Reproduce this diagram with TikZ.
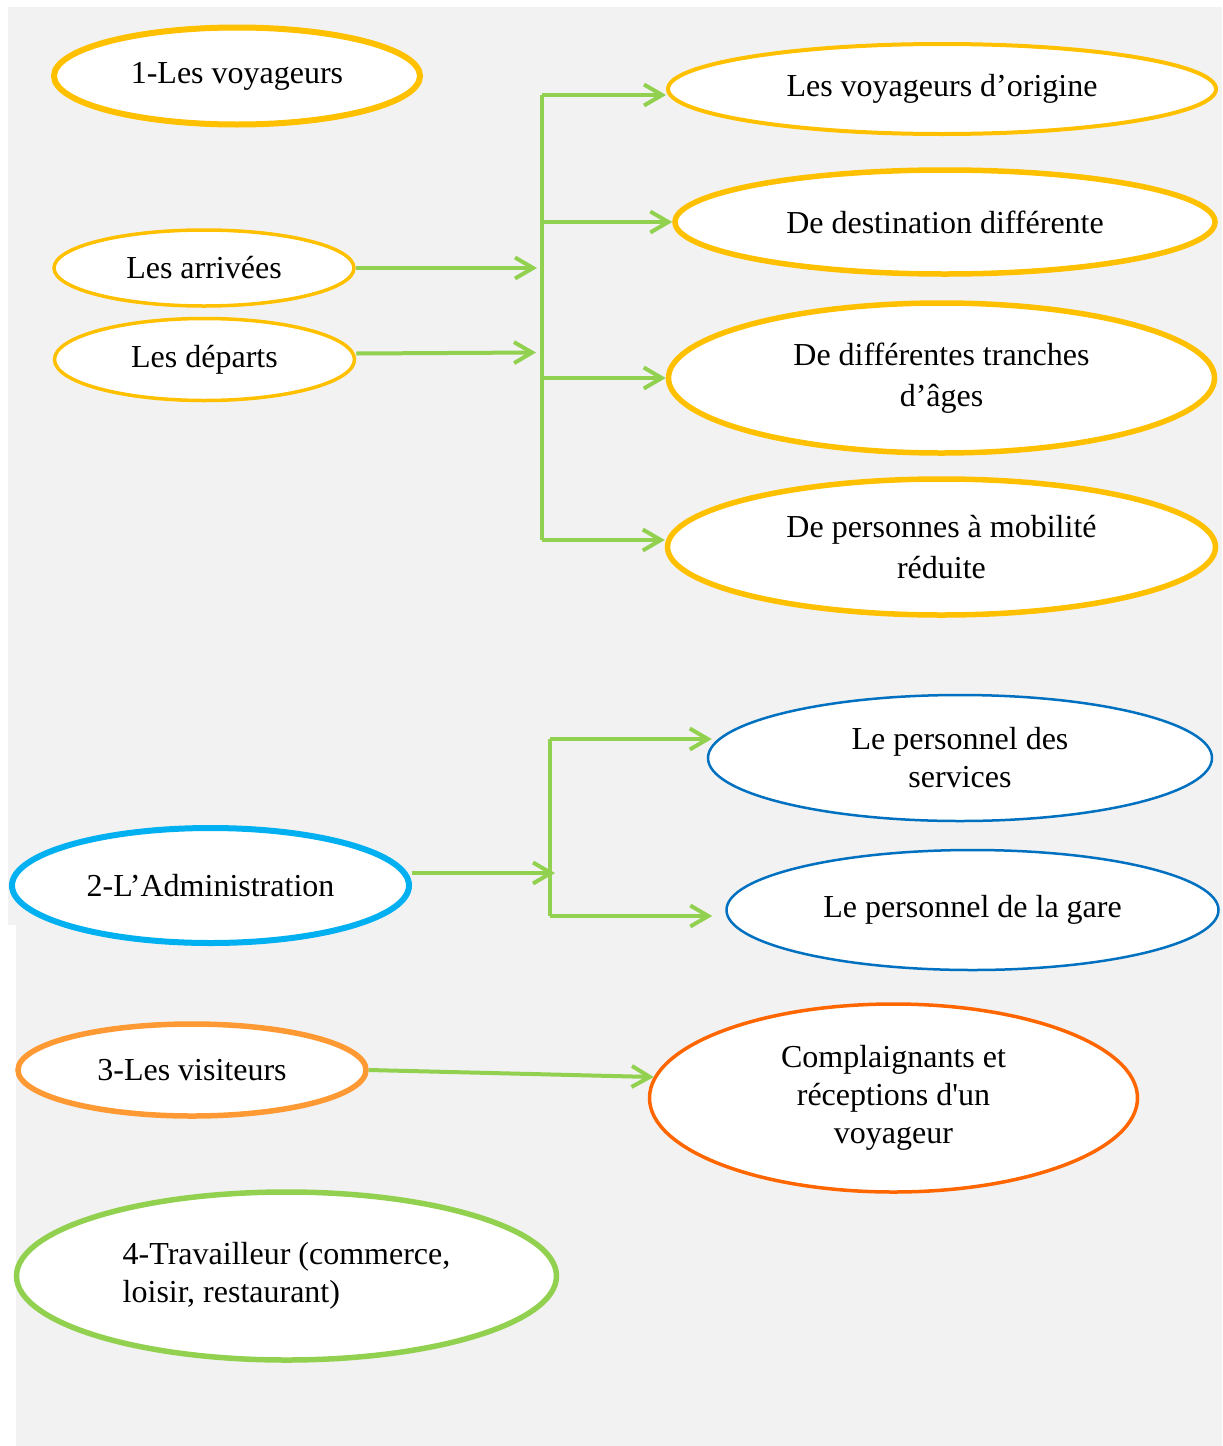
\documentclass[tikz,border=0pt]{standalone}
\usepackage{fontspec}
\setmainfont{Liberation Serif}
\usetikzlibrary{arrows.meta, shapes.geometric, calc}
\definecolor{fond}{HTML}{F2F2F2}
\definecolor{jaune}{HTML}{FFC000}
\definecolor{vert}{HTML}{92D050}
\definecolor{bleu}{HTML}{0070C0}
\definecolor{ciel}{HTML}{00B0F0}
\definecolor{orange}{HTML}{FF9933}
\definecolor{rouille}{HTML}{FF6600}

\begin{document}
\begin{tikzpicture}[x=0.5pt, y=-0.5pt,
  font=\fontsize{16}{19}\selectfont,
  bulle/.style={draw, ellipse, fill=white, align=center, inner sep=0pt},
  tige/.style={draw=vert, line width=2pt},
  fl/.style={tige, -{Straight Barb[length=9pt, width=10.5pt]}}]
  \useasboundingbox (0,0) rectangle (1222,1446);
  \fill[fond] (8,7) rectangle (1222,925);
  \fill[fond] (16,925) rectangle (1222,1446);
  % 1 - voyageurs
  \node[bulle, draw=jaune, line width=3pt, minimum width=183pt, minimum height=48.5pt] (voyageurs) at (237,76) {1-Les voyageurs};
  \node[bulle, draw=jaune, line width=1.75pt, minimum width=150pt, minimum height=38pt] (arrivees) at (204,268) {Les arrivées};
  \node[bulle, draw=jaune, line width=1.75pt, minimum width=150pt, minimum height=41pt] (departs) at (204.5,359.5) {Les départs};
  \node[bulle, draw=jaune, line width=2pt, minimum width=274pt, minimum height=45pt] (origine) at (942,89) {Les voyageurs d'origine};
  \node[bulle, draw=jaune, line width=2.75pt, minimum width=270pt, minimum height=52pt] (destination) at (945,222) {De destination différente};
  \node[bulle, draw=jaune, line width=2.75pt, minimum width=273pt, minimum height=75pt, font=\fontsize{16}{20.5}\selectfont] (tranches) at (941.5,378) {De différentes tranches\\d'âges};
  \node[bulle, draw=jaune, line width=2.75pt, minimum width=274pt, minimum height=68pt, font=\fontsize{16}{20.5}\selectfont] (personnes) at (941.5,547) {De personnes à mobilité\\réduite};
  \coordinate (tronc) at (542,0);
  \draw[tige] ($(origine.west -| tronc)+(0,6)$) -- ($(personnes.west -| tronc)+(0,-7)$);
  \foreach \n/\dy in {origine/6,destination/0,tranches/0,personnes/-7} {\draw[fl] ($(\n.west -| tronc)+(0,\dy)$) -- ($(\n.west)+(0,\dy)$);}
  \draw[fl] (arrivees.east) -- ($(arrivees.east -| tronc)+(-5,0)$);
  \draw[fl] ($(departs.east)+(0,-6)$) -- ($(departs.east -| tronc)+(-6,-7)$);
  % 2 - administration
  \node[bulle, draw=ciel, line width=3pt, minimum width=198.5pt, minimum height=57.5pt] (admin) at (210.5,885.5) {2-L'Administration};
  \node[bulle, draw=bleu, line width=1.25pt, minimum width=252pt, minimum height=63pt] (services) at (960,758) {Le personnel des\\services};
  \node[bulle, draw=bleu, line width=1.25pt, minimum width=246pt, minimum height=60pt] (gare) at (972.5,910) {Le personnel de la gare};
  \coordinate (m0) at (550,873);
  \coordinate (m1) at (550,739);
  \coordinate (m2) at (550,916);
  \draw[tige] (m1) -- (m2);
  \draw[fl] (m1) -- ($(m1 -| services.west)+(5,0)$);
  \draw[fl] (m2) -- ($(m2 -| gare.west)+(-13,0)$);
  \draw[fl] (admin.east |- m0) -- ($(m0)+(5,0)$);
  % 3 - visiteurs
  \node[bulle, draw=orange, line width=2.75pt, minimum width=174pt, minimum height=46pt] (visiteurs) at (192,1070) {3-Les visiteurs};
  \node[bulle, draw=rouille, line width=1.75pt, minimum width=244pt, minimum height=94pt] (plaintes) at (893.5,1098) {Complaignants et\\réceptions d\textquotesingle un\\voyageur};
  \draw[fl] (visiteurs.east) -- (plaintes.175);
  % 4 - travailleur
  \node[bulle, draw=vert, line width=2.75pt, minimum width=270pt, minimum height=84pt, align=left] (travailleur) at (286.5,1276) {4-Travailleur (commerce,\\loisir, restaurant)};
\end{tikzpicture}
\end{document}
